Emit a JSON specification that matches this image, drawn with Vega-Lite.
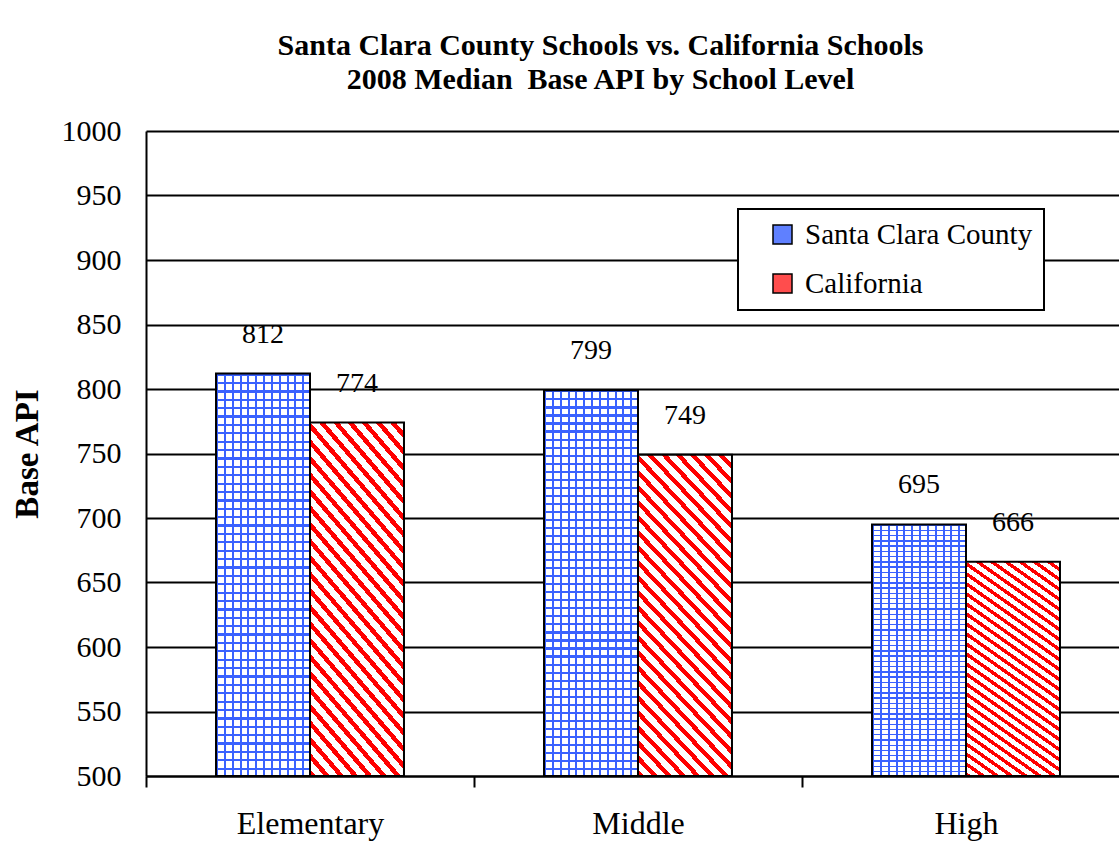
{
  "$schema": "https://vega.github.io/schema/vega-lite/v6.json",
  "width": 973,
  "height": 645,
  "autosize": {"type": "none"},
  "padding": {"left": 146, "top": 131, "right": 0, "bottom": 68},
  "background": "white",
  "config": {
    "view": {"stroke": null},
    "font": "Liberation Serif",
    "legend": {"labelFont": "Liberation Serif", "labelFontSize": 29, "labelColor": "black"}
  },
  "title": {
    "text": ["Santa Clara County Schools vs. California Schools", "2008 Median\u00a0 Base API by School Level"],
    "font": "Liberation Serif",
    "fontSize": 30,
    "fontWeight": "bold",
    "color": "black",
    "lineHeight": 34,
    "anchor": "middle",
    "frame": "group",
    "dx": -32,
    "offset": 21
  },
  "data": {
    "values": [
      {"level": "Elementary", "series": "Santa Clara County", "api": 812},
      {"level": "Elementary", "series": "California", "api": 774},
      {"level": "Middle", "series": "Santa Clara County", "api": 799},
      {"level": "Middle", "series": "California", "api": 749},
      {"level": "High", "series": "Santa Clara County", "api": 695},
      {"level": "High", "series": "California", "api": 666}
    ]
  },
  "encoding": {
    "x": {
      "field": "level",
      "type": "nominal",
      "sort": ["Elementary", "Middle", "High"],
      "scale": {"range": [0, 984], "paddingInner": 0, "paddingOuter": 0},
      "title": null,
      "axis": {
        "labelAngle": 0,
        "labelFont": "Liberation Serif",
        "labelFontSize": 32,
        "labelColor": "black",
        "labelPadding": 21,
        "domainColor": "black",
        "domainWidth": 2,
        "ticks": true,
        "tickBand": "extent",
        "tickColor": "black",
        "tickWidth": 2,
        "tickSize": 11,
        "grid": false
      }
    },
    "xOffset": {
      "field": "series",
      "type": "nominal",
      "scale": {"domain": ["Santa Clara County", "California"], "paddingInner": 0, "paddingOuter": 0.745}
    },
    "y": {
      "field": "api",
      "type": "quantitative",
      "scale": {"domain": [500, 1000], "nice": false, "zero": false},
      "title": "Base API",
      "axis": {
        "values": [500, 550, 600, 650, 700, 750, 800, 850, 900, 950, 1000],
        "format": "d",
        "grid": true,
        "gridColor": "black",
        "gridWidth": 2,
        "gridOpacity": 1,
        "domainColor": "black",
        "domainWidth": 2,
        "ticks": false,
        "labelFont": "Liberation Serif",
        "labelFontSize": 30,
        "labelColor": "black",
        "labelPadding": 25,
        "titleFont": "Liberation Serif",
        "titleFontSize": 33,
        "titleFontWeight": "bold",
        "titleColor": "black",
        "titlePadding": 17
      }
    }
  },
  "layer": [
    {
      "transform": [{"filter": "datum.series === 'Santa Clara County'"}],
      "mark": {
        "type": "bar",
        "fill": {
          "gradient": "linear", "x1": 0, "y1": 0, "x2": 1, "y2": 0,
          "stops": [
            {"offset": 0, "color": "#3a62ff"}, {"offset": 0.0225, "color": "#3a62ff"}, {"offset": 0.0225, "color": "white"}, {"offset": 0.08333, "color": "white"},
            {"offset": 0.08333, "color": "#3a62ff"}, {"offset": 0.10583, "color": "#3a62ff"}, {"offset": 0.10583, "color": "white"}, {"offset": 0.16667, "color": "white"},
            {"offset": 0.16667, "color": "#3a62ff"}, {"offset": 0.18917, "color": "#3a62ff"}, {"offset": 0.18917, "color": "white"}, {"offset": 0.25, "color": "white"},
            {"offset": 0.25, "color": "#3a62ff"}, {"offset": 0.2725, "color": "#3a62ff"}, {"offset": 0.2725, "color": "white"}, {"offset": 0.33333, "color": "white"},
            {"offset": 0.33333, "color": "#3a62ff"}, {"offset": 0.35583, "color": "#3a62ff"}, {"offset": 0.35583, "color": "white"}, {"offset": 0.41667, "color": "white"},
            {"offset": 0.41667, "color": "#3a62ff"}, {"offset": 0.43917, "color": "#3a62ff"}, {"offset": 0.43917, "color": "white"}, {"offset": 0.5, "color": "white"},
            {"offset": 0.5, "color": "#3a62ff"}, {"offset": 0.5225, "color": "#3a62ff"}, {"offset": 0.5225, "color": "white"}, {"offset": 0.58333, "color": "white"},
            {"offset": 0.58333, "color": "#3a62ff"}, {"offset": 0.60583, "color": "#3a62ff"}, {"offset": 0.60583, "color": "white"}, {"offset": 0.66667, "color": "white"},
            {"offset": 0.66667, "color": "#3a62ff"}, {"offset": 0.68917, "color": "#3a62ff"}, {"offset": 0.68917, "color": "white"}, {"offset": 0.75, "color": "white"},
            {"offset": 0.75, "color": "#3a62ff"}, {"offset": 0.7725, "color": "#3a62ff"}, {"offset": 0.7725, "color": "white"}, {"offset": 0.83333, "color": "white"},
            {"offset": 0.83333, "color": "#3a62ff"}, {"offset": 0.85583, "color": "#3a62ff"}, {"offset": 0.85583, "color": "white"}, {"offset": 0.91667, "color": "white"},
            {"offset": 0.91667, "color": "#3a62ff"}, {"offset": 0.93917, "color": "#3a62ff"}, {"offset": 0.93917, "color": "white"}, {"offset": 1, "color": "white"}
          ]
        }
      },
      "encoding": {"y2": {"datum": 500}}
    },
    {
      "transform": [{"filter": "datum.series === 'Santa Clara County'"}],
      "mark": {
        "type": "bar",
        "fill": {
          "gradient": "linear", "x1": 0, "y1": 0, "x2": 0, "y2": 1,
          "stops": [
            {"offset": 0, "color": "#3a62ff"}, {"offset": 0.005625, "color": "#3a62ff"}, {"offset": 0.005625, "color": "rgba(0,0,0,0)"}, {"offset": 0.020833, "color": "rgba(0,0,0,0)"},
            {"offset": 0.020833, "color": "#3a62ff"}, {"offset": 0.026458, "color": "#3a62ff"}, {"offset": 0.026458, "color": "rgba(0,0,0,0)"}, {"offset": 0.041667, "color": "rgba(0,0,0,0)"},
            {"offset": 0.041667, "color": "#3a62ff"}, {"offset": 0.047292, "color": "#3a62ff"}, {"offset": 0.047292, "color": "rgba(0,0,0,0)"}, {"offset": 0.0625, "color": "rgba(0,0,0,0)"},
            {"offset": 0.0625, "color": "#3a62ff"}, {"offset": 0.068125, "color": "#3a62ff"}, {"offset": 0.068125, "color": "rgba(0,0,0,0)"}, {"offset": 0.083333, "color": "rgba(0,0,0,0)"},
            {"offset": 0.083333, "color": "#3a62ff"}, {"offset": 0.088958, "color": "#3a62ff"}, {"offset": 0.088958, "color": "rgba(0,0,0,0)"}, {"offset": 0.104167, "color": "rgba(0,0,0,0)"},
            {"offset": 0.104167, "color": "#3a62ff"}, {"offset": 0.109792, "color": "#3a62ff"}, {"offset": 0.109792, "color": "rgba(0,0,0,0)"}, {"offset": 0.125, "color": "rgba(0,0,0,0)"},
            {"offset": 0.125, "color": "#3a62ff"}, {"offset": 0.130625, "color": "#3a62ff"}, {"offset": 0.130625, "color": "rgba(0,0,0,0)"}, {"offset": 0.145833, "color": "rgba(0,0,0,0)"},
            {"offset": 0.145833, "color": "#3a62ff"}, {"offset": 0.151458, "color": "#3a62ff"}, {"offset": 0.151458, "color": "rgba(0,0,0,0)"}, {"offset": 0.166667, "color": "rgba(0,0,0,0)"},
            {"offset": 0.166667, "color": "#3a62ff"}, {"offset": 0.172292, "color": "#3a62ff"}, {"offset": 0.172292, "color": "rgba(0,0,0,0)"}, {"offset": 0.1875, "color": "rgba(0,0,0,0)"},
            {"offset": 0.1875, "color": "#3a62ff"}, {"offset": 0.193125, "color": "#3a62ff"}, {"offset": 0.193125, "color": "rgba(0,0,0,0)"}, {"offset": 0.208333, "color": "rgba(0,0,0,0)"},
            {"offset": 0.208333, "color": "#3a62ff"}, {"offset": 0.213958, "color": "#3a62ff"}, {"offset": 0.213958, "color": "rgba(0,0,0,0)"}, {"offset": 0.229167, "color": "rgba(0,0,0,0)"},
            {"offset": 0.229167, "color": "#3a62ff"}, {"offset": 0.234792, "color": "#3a62ff"}, {"offset": 0.234792, "color": "rgba(0,0,0,0)"}, {"offset": 0.25, "color": "rgba(0,0,0,0)"},
            {"offset": 0.25, "color": "#3a62ff"}, {"offset": 0.255625, "color": "#3a62ff"}, {"offset": 0.255625, "color": "rgba(0,0,0,0)"}, {"offset": 0.270833, "color": "rgba(0,0,0,0)"},
            {"offset": 0.270833, "color": "#3a62ff"}, {"offset": 0.276458, "color": "#3a62ff"}, {"offset": 0.276458, "color": "rgba(0,0,0,0)"}, {"offset": 0.291667, "color": "rgba(0,0,0,0)"},
            {"offset": 0.291667, "color": "#3a62ff"}, {"offset": 0.297292, "color": "#3a62ff"}, {"offset": 0.297292, "color": "rgba(0,0,0,0)"}, {"offset": 0.3125, "color": "rgba(0,0,0,0)"},
            {"offset": 0.3125, "color": "#3a62ff"}, {"offset": 0.318125, "color": "#3a62ff"}, {"offset": 0.318125, "color": "rgba(0,0,0,0)"}, {"offset": 0.333333, "color": "rgba(0,0,0,0)"},
            {"offset": 0.333333, "color": "#3a62ff"}, {"offset": 0.338958, "color": "#3a62ff"}, {"offset": 0.338958, "color": "rgba(0,0,0,0)"}, {"offset": 0.354167, "color": "rgba(0,0,0,0)"},
            {"offset": 0.354167, "color": "#3a62ff"}, {"offset": 0.359792, "color": "#3a62ff"}, {"offset": 0.359792, "color": "rgba(0,0,0,0)"}, {"offset": 0.375, "color": "rgba(0,0,0,0)"},
            {"offset": 0.375, "color": "#3a62ff"}, {"offset": 0.380625, "color": "#3a62ff"}, {"offset": 0.380625, "color": "rgba(0,0,0,0)"}, {"offset": 0.395833, "color": "rgba(0,0,0,0)"},
            {"offset": 0.395833, "color": "#3a62ff"}, {"offset": 0.401458, "color": "#3a62ff"}, {"offset": 0.401458, "color": "rgba(0,0,0,0)"}, {"offset": 0.416667, "color": "rgba(0,0,0,0)"},
            {"offset": 0.416667, "color": "#3a62ff"}, {"offset": 0.422292, "color": "#3a62ff"}, {"offset": 0.422292, "color": "rgba(0,0,0,0)"}, {"offset": 0.4375, "color": "rgba(0,0,0,0)"},
            {"offset": 0.4375, "color": "#3a62ff"}, {"offset": 0.443125, "color": "#3a62ff"}, {"offset": 0.443125, "color": "rgba(0,0,0,0)"}, {"offset": 0.458333, "color": "rgba(0,0,0,0)"},
            {"offset": 0.458333, "color": "#3a62ff"}, {"offset": 0.463958, "color": "#3a62ff"}, {"offset": 0.463958, "color": "rgba(0,0,0,0)"}, {"offset": 0.479167, "color": "rgba(0,0,0,0)"},
            {"offset": 0.479167, "color": "#3a62ff"}, {"offset": 0.484792, "color": "#3a62ff"}, {"offset": 0.484792, "color": "rgba(0,0,0,0)"}, {"offset": 0.5, "color": "rgba(0,0,0,0)"},
            {"offset": 0.5, "color": "#3a62ff"}, {"offset": 0.505625, "color": "#3a62ff"}, {"offset": 0.505625, "color": "rgba(0,0,0,0)"}, {"offset": 0.520833, "color": "rgba(0,0,0,0)"},
            {"offset": 0.520833, "color": "#3a62ff"}, {"offset": 0.526458, "color": "#3a62ff"}, {"offset": 0.526458, "color": "rgba(0,0,0,0)"}, {"offset": 0.541667, "color": "rgba(0,0,0,0)"},
            {"offset": 0.541667, "color": "#3a62ff"}, {"offset": 0.547292, "color": "#3a62ff"}, {"offset": 0.547292, "color": "rgba(0,0,0,0)"}, {"offset": 0.5625, "color": "rgba(0,0,0,0)"},
            {"offset": 0.5625, "color": "#3a62ff"}, {"offset": 0.568125, "color": "#3a62ff"}, {"offset": 0.568125, "color": "rgba(0,0,0,0)"}, {"offset": 0.583333, "color": "rgba(0,0,0,0)"},
            {"offset": 0.583333, "color": "#3a62ff"}, {"offset": 0.588958, "color": "#3a62ff"}, {"offset": 0.588958, "color": "rgba(0,0,0,0)"}, {"offset": 0.604167, "color": "rgba(0,0,0,0)"},
            {"offset": 0.604167, "color": "#3a62ff"}, {"offset": 0.609792, "color": "#3a62ff"}, {"offset": 0.609792, "color": "rgba(0,0,0,0)"}, {"offset": 0.625, "color": "rgba(0,0,0,0)"},
            {"offset": 0.625, "color": "#3a62ff"}, {"offset": 0.630625, "color": "#3a62ff"}, {"offset": 0.630625, "color": "rgba(0,0,0,0)"}, {"offset": 0.645833, "color": "rgba(0,0,0,0)"},
            {"offset": 0.645833, "color": "#3a62ff"}, {"offset": 0.651458, "color": "#3a62ff"}, {"offset": 0.651458, "color": "rgba(0,0,0,0)"}, {"offset": 0.666667, "color": "rgba(0,0,0,0)"},
            {"offset": 0.666667, "color": "#3a62ff"}, {"offset": 0.672292, "color": "#3a62ff"}, {"offset": 0.672292, "color": "rgba(0,0,0,0)"}, {"offset": 0.6875, "color": "rgba(0,0,0,0)"},
            {"offset": 0.6875, "color": "#3a62ff"}, {"offset": 0.693125, "color": "#3a62ff"}, {"offset": 0.693125, "color": "rgba(0,0,0,0)"}, {"offset": 0.708333, "color": "rgba(0,0,0,0)"},
            {"offset": 0.708333, "color": "#3a62ff"}, {"offset": 0.713958, "color": "#3a62ff"}, {"offset": 0.713958, "color": "rgba(0,0,0,0)"}, {"offset": 0.729167, "color": "rgba(0,0,0,0)"},
            {"offset": 0.729167, "color": "#3a62ff"}, {"offset": 0.734792, "color": "#3a62ff"}, {"offset": 0.734792, "color": "rgba(0,0,0,0)"}, {"offset": 0.75, "color": "rgba(0,0,0,0)"},
            {"offset": 0.75, "color": "#3a62ff"}, {"offset": 0.755625, "color": "#3a62ff"}, {"offset": 0.755625, "color": "rgba(0,0,0,0)"}, {"offset": 0.770833, "color": "rgba(0,0,0,0)"},
            {"offset": 0.770833, "color": "#3a62ff"}, {"offset": 0.776458, "color": "#3a62ff"}, {"offset": 0.776458, "color": "rgba(0,0,0,0)"}, {"offset": 0.791667, "color": "rgba(0,0,0,0)"},
            {"offset": 0.791667, "color": "#3a62ff"}, {"offset": 0.797292, "color": "#3a62ff"}, {"offset": 0.797292, "color": "rgba(0,0,0,0)"}, {"offset": 0.8125, "color": "rgba(0,0,0,0)"},
            {"offset": 0.8125, "color": "#3a62ff"}, {"offset": 0.818125, "color": "#3a62ff"}, {"offset": 0.818125, "color": "rgba(0,0,0,0)"}, {"offset": 0.833333, "color": "rgba(0,0,0,0)"},
            {"offset": 0.833333, "color": "#3a62ff"}, {"offset": 0.838958, "color": "#3a62ff"}, {"offset": 0.838958, "color": "rgba(0,0,0,0)"}, {"offset": 0.854167, "color": "rgba(0,0,0,0)"},
            {"offset": 0.854167, "color": "#3a62ff"}, {"offset": 0.859792, "color": "#3a62ff"}, {"offset": 0.859792, "color": "rgba(0,0,0,0)"}, {"offset": 0.875, "color": "rgba(0,0,0,0)"},
            {"offset": 0.875, "color": "#3a62ff"}, {"offset": 0.880625, "color": "#3a62ff"}, {"offset": 0.880625, "color": "rgba(0,0,0,0)"}, {"offset": 0.895833, "color": "rgba(0,0,0,0)"},
            {"offset": 0.895833, "color": "#3a62ff"}, {"offset": 0.901458, "color": "#3a62ff"}, {"offset": 0.901458, "color": "rgba(0,0,0,0)"}, {"offset": 0.916667, "color": "rgba(0,0,0,0)"},
            {"offset": 0.916667, "color": "#3a62ff"}, {"offset": 0.922292, "color": "#3a62ff"}, {"offset": 0.922292, "color": "rgba(0,0,0,0)"}, {"offset": 0.9375, "color": "rgba(0,0,0,0)"},
            {"offset": 0.9375, "color": "#3a62ff"}, {"offset": 0.943125, "color": "#3a62ff"}, {"offset": 0.943125, "color": "rgba(0,0,0,0)"}, {"offset": 0.958333, "color": "rgba(0,0,0,0)"},
            {"offset": 0.958333, "color": "#3a62ff"}, {"offset": 0.963958, "color": "#3a62ff"}, {"offset": 0.963958, "color": "rgba(0,0,0,0)"}, {"offset": 0.979167, "color": "rgba(0,0,0,0)"},
            {"offset": 0.979167, "color": "#3a62ff"}, {"offset": 0.984792, "color": "#3a62ff"}, {"offset": 0.984792, "color": "rgba(0,0,0,0)"}, {"offset": 1, "color": "rgba(0,0,0,0)"}
          ]
        }
      },
      "encoding": {"y2": {"datum": 500}}
    },
    {
      "transform": [{"filter": "datum.series === 'California'"}],
      "mark": {
        "type": "bar",
        "fill": {
          "gradient": "linear", "x1": 0, "y1": 1, "x2": 0.37, "y2": -0.195,
          "stops": [
            {"offset": 0, "color": "#ff0000"}, {"offset": 0.015, "color": "#ff0000"}, {"offset": 0.015, "color": "white"}, {"offset": 0.035714, "color": "white"},
            {"offset": 0.035714, "color": "#ff0000"}, {"offset": 0.050714, "color": "#ff0000"}, {"offset": 0.050714, "color": "white"}, {"offset": 0.071429, "color": "white"},
            {"offset": 0.071429, "color": "#ff0000"}, {"offset": 0.086429, "color": "#ff0000"}, {"offset": 0.086429, "color": "white"}, {"offset": 0.107143, "color": "white"},
            {"offset": 0.107143, "color": "#ff0000"}, {"offset": 0.122143, "color": "#ff0000"}, {"offset": 0.122143, "color": "white"}, {"offset": 0.142857, "color": "white"},
            {"offset": 0.142857, "color": "#ff0000"}, {"offset": 0.157857, "color": "#ff0000"}, {"offset": 0.157857, "color": "white"}, {"offset": 0.178571, "color": "white"},
            {"offset": 0.178571, "color": "#ff0000"}, {"offset": 0.193571, "color": "#ff0000"}, {"offset": 0.193571, "color": "white"}, {"offset": 0.214286, "color": "white"},
            {"offset": 0.214286, "color": "#ff0000"}, {"offset": 0.229286, "color": "#ff0000"}, {"offset": 0.229286, "color": "white"}, {"offset": 0.25, "color": "white"},
            {"offset": 0.25, "color": "#ff0000"}, {"offset": 0.265, "color": "#ff0000"}, {"offset": 0.265, "color": "white"}, {"offset": 0.285714, "color": "white"},
            {"offset": 0.285714, "color": "#ff0000"}, {"offset": 0.300714, "color": "#ff0000"}, {"offset": 0.300714, "color": "white"}, {"offset": 0.321429, "color": "white"},
            {"offset": 0.321429, "color": "#ff0000"}, {"offset": 0.336429, "color": "#ff0000"}, {"offset": 0.336429, "color": "white"}, {"offset": 0.357143, "color": "white"},
            {"offset": 0.357143, "color": "#ff0000"}, {"offset": 0.372143, "color": "#ff0000"}, {"offset": 0.372143, "color": "white"}, {"offset": 0.392857, "color": "white"},
            {"offset": 0.392857, "color": "#ff0000"}, {"offset": 0.407857, "color": "#ff0000"}, {"offset": 0.407857, "color": "white"}, {"offset": 0.428571, "color": "white"},
            {"offset": 0.428571, "color": "#ff0000"}, {"offset": 0.443571, "color": "#ff0000"}, {"offset": 0.443571, "color": "white"}, {"offset": 0.464286, "color": "white"},
            {"offset": 0.464286, "color": "#ff0000"}, {"offset": 0.479286, "color": "#ff0000"}, {"offset": 0.479286, "color": "white"}, {"offset": 0.5, "color": "white"},
            {"offset": 0.5, "color": "#ff0000"}, {"offset": 0.515, "color": "#ff0000"}, {"offset": 0.515, "color": "white"}, {"offset": 0.535714, "color": "white"},
            {"offset": 0.535714, "color": "#ff0000"}, {"offset": 0.550714, "color": "#ff0000"}, {"offset": 0.550714, "color": "white"}, {"offset": 0.571429, "color": "white"},
            {"offset": 0.571429, "color": "#ff0000"}, {"offset": 0.586429, "color": "#ff0000"}, {"offset": 0.586429, "color": "white"}, {"offset": 0.607143, "color": "white"},
            {"offset": 0.607143, "color": "#ff0000"}, {"offset": 0.622143, "color": "#ff0000"}, {"offset": 0.622143, "color": "white"}, {"offset": 0.642857, "color": "white"},
            {"offset": 0.642857, "color": "#ff0000"}, {"offset": 0.657857, "color": "#ff0000"}, {"offset": 0.657857, "color": "white"}, {"offset": 0.678571, "color": "white"},
            {"offset": 0.678571, "color": "#ff0000"}, {"offset": 0.693571, "color": "#ff0000"}, {"offset": 0.693571, "color": "white"}, {"offset": 0.714286, "color": "white"},
            {"offset": 0.714286, "color": "#ff0000"}, {"offset": 0.729286, "color": "#ff0000"}, {"offset": 0.729286, "color": "white"}, {"offset": 0.75, "color": "white"},
            {"offset": 0.75, "color": "#ff0000"}, {"offset": 0.765, "color": "#ff0000"}, {"offset": 0.765, "color": "white"}, {"offset": 0.785714, "color": "white"},
            {"offset": 0.785714, "color": "#ff0000"}, {"offset": 0.800714, "color": "#ff0000"}, {"offset": 0.800714, "color": "white"}, {"offset": 0.821429, "color": "white"},
            {"offset": 0.821429, "color": "#ff0000"}, {"offset": 0.836429, "color": "#ff0000"}, {"offset": 0.836429, "color": "white"}, {"offset": 0.857143, "color": "white"},
            {"offset": 0.857143, "color": "#ff0000"}, {"offset": 0.872143, "color": "#ff0000"}, {"offset": 0.872143, "color": "white"}, {"offset": 0.892857, "color": "white"},
            {"offset": 0.892857, "color": "#ff0000"}, {"offset": 0.907857, "color": "#ff0000"}, {"offset": 0.907857, "color": "white"}, {"offset": 0.928571, "color": "white"},
            {"offset": 0.928571, "color": "#ff0000"}, {"offset": 0.943571, "color": "#ff0000"}, {"offset": 0.943571, "color": "white"}, {"offset": 0.964286, "color": "white"},
            {"offset": 0.964286, "color": "#ff0000"}, {"offset": 0.979286, "color": "#ff0000"}, {"offset": 0.979286, "color": "white"}, {"offset": 1, "color": "white"}
          ]
        }
      },
      "encoding": {"y2": {"datum": 500}}
    },
    {
      "mark": {"type": "bar", "fillOpacity": 0, "stroke": "black", "strokeWidth": 2},
      "encoding": {
        "y2": {"datum": 500},
        "color": {
          "field": "series",
          "type": "nominal",
          "scale": {"domain": ["Santa Clara County", "California"], "range": ["#5f80ff", "#ff4d4d"]},
          "legend": {
            "title": null,
            "orient": "none",
            "legendX": 592,
            "legendY": 78,
            "direction": "vertical",
            "padding": 11,
            "fillColor": "white",
            "strokeColor": "black",
            "symbolType": "square",
            "symbolSize": 361,
            "symbolStrokeColor": "black",
            "symbolStrokeWidth": 1.5,
            "symbolOpacity": 1,
            "symbolOffset": 19,
            "labelFont": "Liberation Serif",
            "labelFontSize": 29,
            "labelColor": "black",
            "labelOffset": 8,
            "labelLimit": 400,
            "rowPadding": 19,
            "encode": {
              "legend": {"update": {"strokeWidth": {"value": 2}}},
              "labels": {"update": {"font": {"value": "Liberation Serif"}, "fontSize": {"value": 29}}},
              "symbols": {
                "update": {
                  "fillOpacity": {"value": 1},
                  "stroke": {"value": "black"},
                  "strokeWidth": {"value": 1.5}
                }
              }
            }
          }
        }
      }
    },
    {
      "mark": {"type": "text", "font": "Liberation Serif", "fontSize": 28, "color": "black", "baseline": "middle", "dy": -39},
      "encoding": {"text": {"field": "api", "type": "quantitative"}}
    }
  ]
}
